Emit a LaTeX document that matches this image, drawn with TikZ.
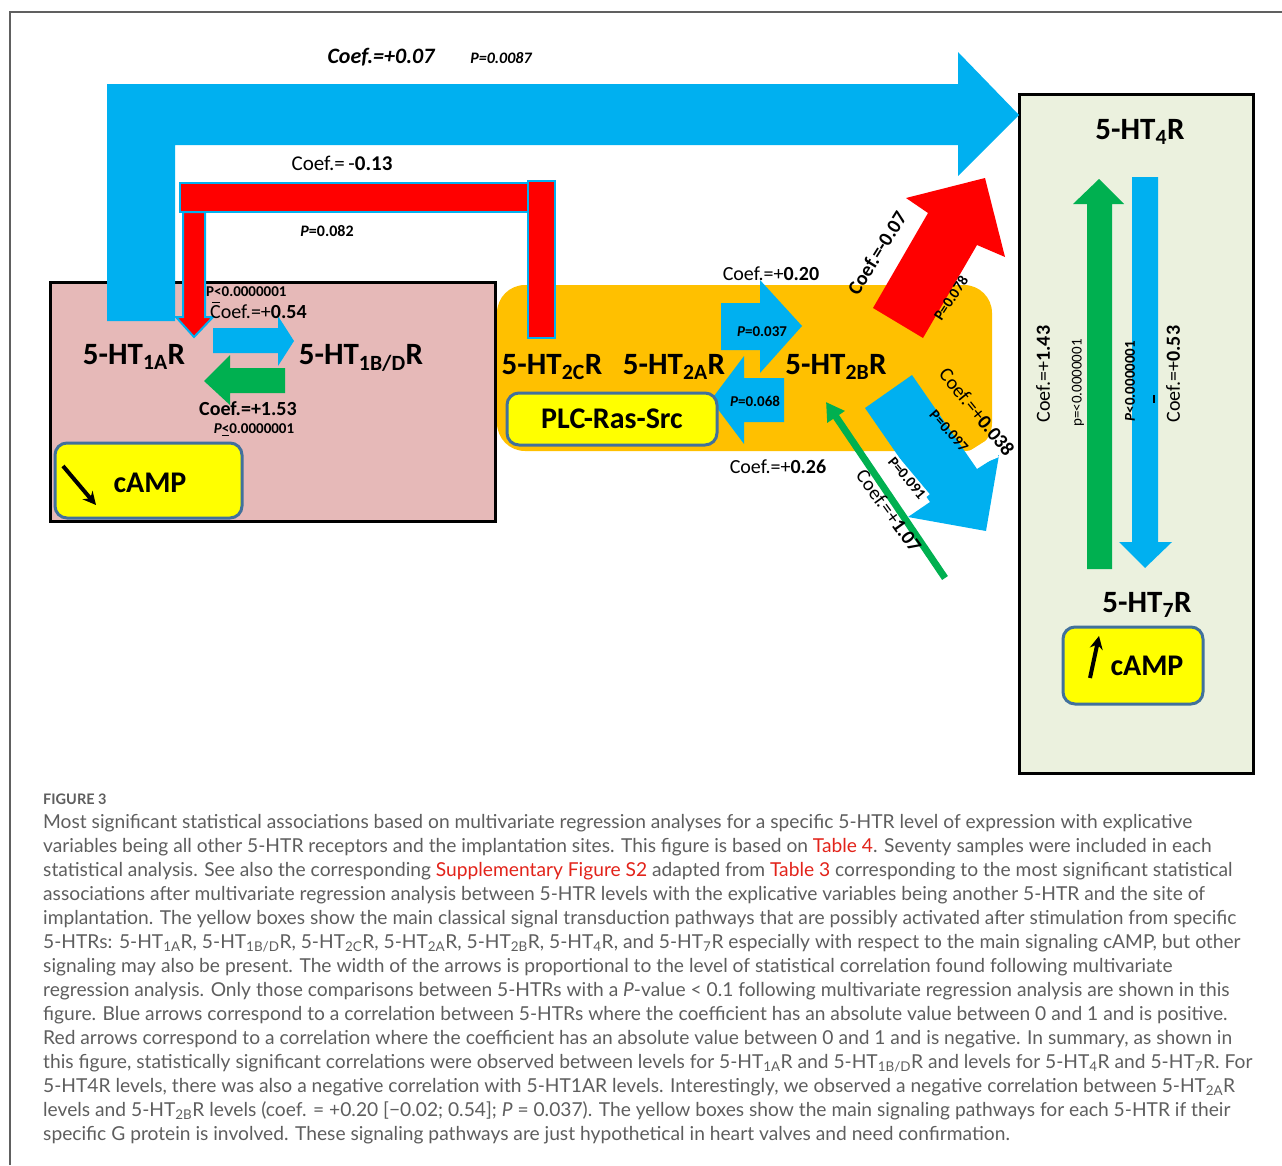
\documentclass[tikz,border=0pt]{standalone}
\usepackage{fontspec}
\setmainfont{Carlito}
\newfontfamily\capfont{Lato}
\usetikzlibrary{arrows.meta}
\definecolor{myblue}{HTML}{00B0F0}
\definecolor{myred}{HTML}{FF0000}
\definecolor{mygreen}{HTML}{00B050}
\definecolor{pinkbox}{HTML}{E6B9B8}
\definecolor{orangebox}{HTML}{FFC000}
\definecolor{yellowbox}{HTML}{FFFF00}
\definecolor{ybord}{HTML}{41719C}
\definecolor{greenbox}{HTML}{EBF1DE}
\definecolor{captext}{HTML}{5E5E5E}
\definecolor{linkred}{HTML}{E2231A}
\definecolor{framegray}{HTML}{606060}
\newcommand{\lo}[1]{\textsubscript{#1}}
\newcommand{\lnk}[1]{\textcolor{linkred}{#1}}
\begin{document}
\begin{tikzpicture}[x=1pt,y=-1pt,
  rec/.style={font=\fontsize{31}{34}\selectfont\bfseries, inner sep=0pt},
  coef/.style={font=\fontsize{20}{22}\selectfont, inner sep=0pt},
  pv/.style={font=\fontsize{15}{17}\selectfont\bfseries, inner sep=0pt},
  campt/.style={font=\fontsize{30}{32}\selectfont\bfseries, inner sep=0pt},
  captxt/.style={font=\capfont\fontsize{19.2}{24}\selectfont, text=captext, anchor=base west, inner sep=0pt},
  ybox/.style={fill=yellowbox, draw=ybord, line width=3pt, rounded corners=12pt},
  redbar/.style={fill=myred, draw=myblue, line width=2pt},
  iconarrow/.style={line width=4pt, -{Stealth[length=13pt,width=13pt]}}]
\useasboundingbox (0,0) rectangle (1282,1165);
% frame
\draw[framegray, line width=1.2pt] (10,1165) -- (10,12) -- (1282,12);
% boxes
\draw[fill=pinkbox, line width=3pt] (50,282) rectangle (495,521);
\fill[orangebox, rounded corners=28pt] (497,285) rectangle (992,451);
\draw[fill=greenbox, line width=3pt] (1019,94) rectangle (1253,773);
% big blue L arrow 1A -> 4
\fill[myblue] (107,321) -- (107,84) -- (958,84) -- (958,52) -- (1019,115) -- (958,176) -- (958,145) -- (175,145) -- (175,321) -- cycle;
% red L arrow 2C -> 1A
\filldraw[redbar] (183,212) -- (205,212) -- (205,317) -- (213,317) -- (194,337) -- (176,317) -- (183,317) -- cycle;
\filldraw[redbar] (180,183) rectangle (528,212);
\filldraw[redbar] (528,181) rectangle (555,338);
% 1A <-> 1B/D
\fill[myblue] (213,328) -- (278,328) -- (278,316) -- (294,341) -- (278,366) -- (278,353) -- (213,353) -- cycle;
\fill[mygreen] (285,368) -- (285,393) -- (230,393) -- (230,405) -- (204,381) -- (230,355) -- (230,368) -- cycle;
% 2A <-> 2B
\fill[myblue] (721,303) -- (760,303) -- (760,280) -- (802,326) -- (760,373) -- (760,350) -- (721,350) -- cycle;
\fill[myblue] (784,378) -- (784,422) -- (744,422) -- (744,444) -- (711,400) -- (744,356) -- (744,378) -- cycle;
% red diagonal
\fill[myred] (873,308) -- (928,213) -- (906,198) -- (985,178) -- (1005,257) -- (977,245) -- (923,338) -- cycle;
% blue diagonal
\fill[myblue] (865,408) -- (912,375) -- (977,469) -- (999,455) -- (986,531) -- (908,517) -- (930,502) -- cycle;
\fill[white] (968,452) -- (987,440) -- (999,457) -- (977,466) -- cycle;
% 4 <-> 7 arrows
\fill[mygreen] (1087,569) -- (1087,204) -- (1073,204) -- (1099,179) -- (1124,204) -- (1112,204) -- (1112,569) -- cycle;
\fill[myblue] (1132,177) -- (1158,177) -- (1158,542) -- (1172,542) -- (1145,568) -- (1119,542) -- (1132,542) -- cycle;
% yellow boxes
\draw[ybox] (55,443) rectangle (242,518);
\draw[ybox] (507,393) rectangle (717,445);
\draw[ybox] (1063,627) rectangle (1203,704);
% receptor labels
\node[rec] (ht1a) at (134,357) {5-HT\lo{1A}R};
\node[rec] (ht1bd) at (361,358) {5-HT\lo{1B/D}R};
\node[rec] (ht2c) at (552,367) {5-HT\lo{2C}R};
\node[rec] (ht2a) at (674,367) {5-HT\lo{2A}R};
\node[rec] (ht2b) at (836,367) {5-HT\lo{2B}R};
\node[rec] (ht4) at (1140,132) {5-HT\lo{4}R};
\node[rec] (ht7) at (1147,605) {5-HT\lo{7}R};
\node[campt] (camp1) at (150,483) {cAMP};
\node[campt] (plc) at (612,419) {PLC-Ras-Src};
\node[campt] (camp2) at (1147,666) {cAMP};
\coordinate (i1s) at (63,466);
\coordinate (i1e) at (96,505);
\draw[iconarrow] (i1s) -- (i1e);
\coordinate (i2s) at (1090,678);
\coordinate (i2e) at (1099,636);
\draw[iconarrow] (i2s) -- (i2e);
% green thin arrow into 2B
\coordinate (gs) at (945,578);
\coordinate (ge) at (826,402);
\draw[mygreen, line width=7pt, -{Triangle[length=18pt,width=20pt]}] (gs) -- (ge);
% labels top
\node[font=\fontsize{22}{24}\selectfont\bfseries\itshape, inner sep=0pt] (c007) at (381,57) {Coef.=+0.07};
\node[pv, font=\fontsize{16}{18}\selectfont\bfseries\itshape] (p0087) at (501,58) {P=0.0087};
\node[coef, font=\fontsize{21}{23}\selectfont] (c013) at (342,163) {Coef.=\,-\textbf{0.13}};
\node[pv, font=\fontsize{16}{18}\selectfont\bfseries] (p082) at (327,231) {\textit{P}=0.082};
% pink box labels
\node[pv, anchor=west] (p1) at (206,292) {P<0.0000001};
\node[coef, anchor=west] (c054) at (210,312) {Coef.=+\textbf{0.54}};
\draw[line width=1.5pt] (212,302.5) -- (220,302.5);
\node[coef, font=\fontsize{20}{22}\selectfont\bfseries] (c153) at (248,409) {Coef.=+1.53};
\node[pv] (p2) at (254,430) {\textit{P}\underline{<}0.0000001};
% orange box labels
\node[coef] (c020) at (771,274) {Coef.=+\textbf{0.20}};
\node[pv] (p037) at (762,332) {\textit{P}=0.037};
\node[pv] (p068) at (755,401) {\textit{P}=0.068};
\node[coef] (c026) at (778,467) {Coef.=+\textbf{0.26}};
% diagonal labels
\node[coef, font=\fontsize{20}{22}\selectfont\bfseries, rotate=58] (c007b) at (877,253) {Coef.=-0.07};
\node[pv, rotate=57] (p078) at (951,298) {P=0.078};
\node[coef, rotate=-51] (c038) at (977,412) {Coef.=+\textbf{0.038}};
\node[pv, rotate=-48] (p097) at (949,431) {P=0.097};
\node[pv, rotate=-50, fill=white, inner sep=2pt] (p091) at (907,478) {P=0.091};
\node[coef, rotate=-54] (c107) at (889,511) {Coef.=+\textbf{1.07}};
% green box labels
\node[coef, rotate=90] (c143) at (1043,374) {Coef.=+\textbf{1.43}};
\node[pv, font=\fontsize{15}{17}\selectfont, rotate=90] (p3) at (1078,383) {p=<0.0000001};
\node[pv, rotate=90] (p4) at (1130,381) {\textit{P}<0.0000001};
\draw[line width=1.5pt] (1154,395) -- (1154,403);
\node[coef, rotate=90] (c053) at (1173,374) {Coef.=+\textbf{0.53}};
% caption
\node[captxt, font=\capfont\bfseries\fontsize{14.5}{16}\selectfont] (fig) at (43,804) {FIGURE 3};
\node[captxt] (l1) at (43,828) {Most significant statistical associations based on multivariate regression analyses for a specific 5-HTR level of expression with explicative};
\node[captxt] (l2) at (43,852) {variables being all other 5-HTR receptors and the implantation sites. This figure is based on \lnk{Table 4}. Seventy samples were included in each};
\node[captxt] (l3) at (43,876) {statistical analysis. See also the corresponding \lnk{Supplementary Figure S2} adapted from \lnk{Table 3} corresponding to the most significant statistical};
\node[captxt] (l4) at (43,900) {associations after multivariate regression analysis between 5-HTR levels with the explicative variables being another 5-HTR and the site of};
\node[captxt] (l5) at (43,924) {implantation. The yellow boxes show the main classical signal transduction pathways that are possibly activated after stimulation from specific};
\node[captxt] (l6) at (43,948) {5-HTRs: 5-HT\lo{1A}R, 5-HT\lo{1B/D}R, 5-HT\lo{2C}R, 5-HT\lo{2A}R, 5-HT\lo{2B}R, 5-HT\lo{4}R, and 5-HT\lo{7}R especially with respect to the main signaling cAMP, but other};
\node[captxt] (l7) at (43,972) {signaling may also be present. The width of the arrows is proportional to the level of statistical correlation found following multivariate};
\node[captxt] (l8) at (43,996) {regression analysis. Only those comparisons between 5-HTRs with a \textit{P}-value < 0.1 following multivariate regression analysis are shown in this};
\node[captxt] (l9) at (43,1020) {figure. Blue arrows correspond to a correlation between 5-HTRs where the coefficient has an absolute value between 0 and 1 and is positive.};
\node[captxt] (l10) at (43,1044) {Red arrows correspond to a correlation where the coefficient has an absolute value between 0 and 1 and is negative. In summary, as shown in};
\node[captxt] (l11) at (43,1068) {this figure, statistically significant correlations were observed between levels for 5-HT\lo{1A}R and 5-HT\lo{1B/D}R and levels for 5-HT\lo{4}R and 5-HT\lo{7}R. For};
\node[captxt] (l12) at (43,1092) {5-HT4R levels, there was also a negative correlation with 5-HT1AR levels. Interestingly, we observed a negative correlation between 5-HT\lo{2A}R};
\node[captxt] (l13) at (43,1116) {levels and 5-HT\lo{2B}R levels (coef. = +0.20 [−0.02; 0.54]; \textit{P} = 0.037). The yellow boxes show the main signaling pathways for each 5-HTR if their};
\node[captxt] (l14) at (43,1140) {specific G protein is involved. These signaling pathways are just hypothetical in heart valves and need confirmation.};
\end{tikzpicture}
\end{document}
